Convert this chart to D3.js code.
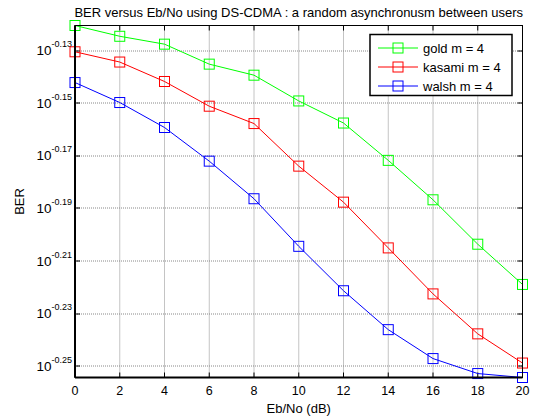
<!DOCTYPE html>
<html>
<head>
<meta charset="utf-8">
<script src="https://cdn.jsdelivr.net/npm/d3@7"></script>
<style>
  body { margin: 0; background: #fff; }
  text { font-family: "Liberation Sans", Arial, sans-serif; }
</style>
</head>
<body>
<script>
// Eb/No values (dB)
const ebno = [0, 2, 4, 6, 8, 10, 12, 14, 16, 18, 20];
// BER, as log10 exponents
const goldExp   = [-0.1206, -0.1247, -0.1277, -0.1353, -0.1395, -0.1493, -0.1577, -0.1719, -0.1869, -0.2038, -0.2191];
const kasamiExp = [-0.1306, -0.1345, -0.1419, -0.1513, -0.1579, -0.1741, -0.1878, -0.2052, -0.2227, -0.2379, -0.2490];
const walshExp  = [-0.1423, -0.1499, -0.1594, -0.1722, -0.1865, -0.2046, -0.2215, -0.2363, -0.2473, -0.2530, -0.2545];
const seriesNames = ["gold m = 4", "kasami m = 4", "walsh m = 4"];
const seriesColors = ["#00ff00", "#ff0000", "#0000ff"];
const xTicks = [0, 2, 4, 6, 8, 10, 12, 14, 16, 18, 20];
const yTickExp = [-0.13, -0.15, -0.17, -0.19, -0.21, -0.23, -0.25];

const series = [goldExp, kasamiExp, walshExp].map((e, i) => ({
  name: seriesNames[i],
  color: seriesColors[i],
  values: ebno.map((x, j) => ({x: x, y: Math.pow(10, e[j])}))
}));

const width = 534, height = 419;
const margin = {top: 25.5, right: 11.5, bottom: 41.5, left: 75};
const iw = width - margin.left - margin.right;
const ih = height - margin.top - margin.bottom;

const svg = d3.select("body").append("svg")
  .attr("width", width)
  .attr("height", height);

const allY = series.flatMap(s => s.values.map(d => d.y));
const x = d3.scaleLinear().domain([0, 20]).range([0, iw]);
const y = d3.scaleLog().domain(d3.extent(allY)).range([ih, 0]);

const g = svg.append("g").attr("transform", `translate(${margin.left},${margin.top})`);

// grid
g.selectAll(".gx").data(xTicks.slice(1, -1)).join("line")
  .attr("x1", d => x(d)).attr("x2", d => x(d))
  .attr("y1", 0).attr("y2", ih)
  .attr("stroke", "#888").attr("stroke-width", 1)
  .attr("stroke-dasharray", "1,1");
g.selectAll(".gy").data(yTickExp).join("line")
  .attr("x1", 0).attr("x2", iw)
  .attr("y1", d => Math.round(y(Math.pow(10, d))) + 0.5)
  .attr("y2", d => Math.round(y(Math.pow(10, d))) + 0.5)
  .attr("stroke", "#888").attr("stroke-width", 1)
  .attr("stroke-dasharray", "1,1");

// inner ticks
const tl = 5;
xTicks.forEach(t => {
  g.append("line").attr("x1", x(t)).attr("x2", x(t)).attr("y1", ih).attr("y2", ih - tl).attr("stroke", "#000");
  g.append("line").attr("x1", x(t)).attr("x2", x(t)).attr("y1", 0).attr("y2", tl).attr("stroke", "#000");
});
yTickExp.forEach(t => {
  const yy = Math.round(y(Math.pow(10, t))) + 0.5;
  g.append("line").attr("x1", 0).attr("x2", tl).attr("y1", yy).attr("y2", yy).attr("stroke", "#000");
  g.append("line").attr("x1", iw).attr("x2", iw - tl).attr("y1", yy).attr("y2", yy).attr("stroke", "#000");
});

// x tick labels
g.selectAll(".xl").data(xTicks).join("text")
  .attr("x", d => x(d)).attr("y", ih + 17.5)
  .attr("text-anchor", "middle")
  .attr("font-size", "12.5px")
  .text(d => d);

// y tick labels 10^exp
yTickExp.forEach(t => {
  const yy = y(Math.pow(10, t));
  const tx = g.append("text")
    .attr("x", -3).attr("y", yy + 5)
    .attr("text-anchor", "end")
    .attr("font-size", "13.5px");
  tx.append("tspan").text("10");
  tx.append("tspan").attr("dy", -8).attr("font-size", "9px").text(t.toFixed(2));
});

// lines and markers
const line = d3.line().x(d => x(d.x)).y(d => y(d.y));
series.forEach(s => {
  g.append("path").datum(s.values)
    .attr("d", line)
    .attr("fill", "none")
    .attr("stroke", s.color)
    .attr("stroke-width", 1);
  g.selectAll(null).data(s.values).join("rect")
    .attr("x", d => x(d.x) - 5).attr("y", d => y(d.y) - 5)
    .attr("width", 10).attr("height", 10)
    .attr("fill", "none")
    .attr("stroke", s.color)
    .attr("stroke-width", 1);
});

// axes box
g.append("rect").attr("x", 0).attr("y", 0).attr("width", iw).attr("height", ih)
  .attr("fill", "none").attr("stroke", "#000").attr("stroke-width", 1);
g.append("line").attr("x1", 0).attr("x2", iw).attr("y1", ih).attr("y2", ih)
  .attr("stroke", "#000").attr("stroke-width", 2);
g.append("line").attr("x1", 0).attr("x2", 0).attr("y1", 0).attr("y2", ih)
  .attr("stroke", "#000").attr("stroke-width", 2);

// legend
const lg = svg.append("g").attr("transform", "translate(370,34.5)");
lg.append("rect").attr("width", 142).attr("height", 61)
  .attr("fill", "#fff").attr("stroke", "#000").attr("stroke-width", 1.5);
series.forEach((s, i) => {
  const ly = 13.5 + i * 19;
  lg.append("line").attr("x1", 8).attr("x2", 48).attr("y1", ly).attr("y2", ly)
    .attr("stroke", s.color);
  lg.append("rect").attr("x", 23).attr("y", ly - 5).attr("width", 10).attr("height", 10)
    .attr("fill", "none").attr("stroke", s.color);
  lg.append("text").attr("x", 53).attr("y", ly + 5)
    .attr("font-size", "13px").text(s.name);
});

// title and labels
svg.append("text").attr("x", margin.left + iw / 2).attr("y", 16.5)
  .attr("text-anchor", "middle").attr("font-size", "13px")
  .text("BER versus Eb/No using DS-CDMA : a random asynchronusm between users");
svg.append("text").attr("x", margin.left + iw / 2).attr("y", 412.5)
  .attr("text-anchor", "middle").attr("font-size", "13px")
  .text("Eb/No (dB)");
svg.append("text")
  .attr("transform", `translate(24,${margin.top + ih / 2}) rotate(-90)`)
  .attr("text-anchor", "middle").attr("font-size", "13px")
  .text("BER");
</script>
</body>
</html>
